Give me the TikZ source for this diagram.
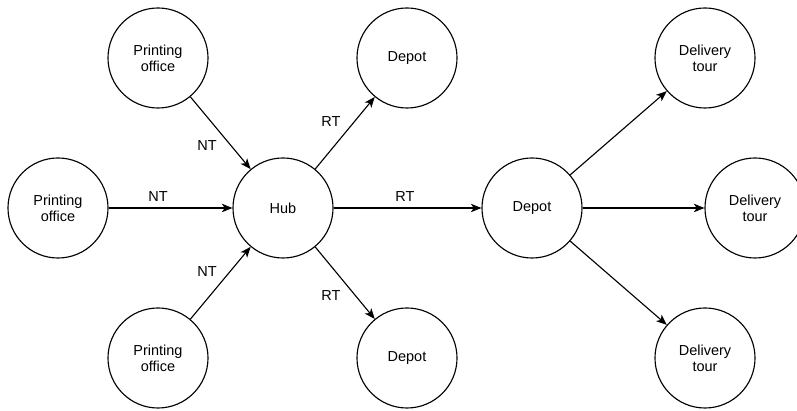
\documentclass[tikz,border=0pt]{standalone}
\usepackage{fontspec}
\setmainfont{Liberation Sans}
\usetikzlibrary{arrows.meta}
\newcommand{\twolines}[2]{#1\\#2}

\begin{document}
\begin{tikzpicture}[x=0.025cm,y=-0.025cm,
		place/.style={draw,circle,minimum size=2.5cm,inner sep=0pt,align=center,line width=0.8pt,
			font=\fontsize{10.3pt}{11.3pt}\selectfont},
		flow/.style={-{Stealth[length=7.5pt,width=6pt,inset=2pt]},line width=0.8pt},
		tag/.style={inner sep=1pt,font=\fontsize{10.3pt}{11.3pt}\selectfont}]
		\useasboundingbox (0,0) rectangle (797,411);

		\node[place] (po1) at (158,58) {\twolines{Printing}{office}};
		\node[place] (po2) at (58,208) {\twolines{Printing}{office}};
		\node[place] (po3) at (158,358) {\twolines{Printing}{office}};
		\node[place] (hub) at (283,208) {Hub};
		\node[place] (dep1) at (407,58) {Depot};
		\node[place] (dep2) at (532,208) {Depot};
		\node[place] (dep3) at (407,358) {Depot};
		\node[place] (tour1) at (705,58) {\twolines{Delivery}{tour}};
		\node[place] (tour2) at (755,208) {\twolines{Delivery}{tour}};
		\node[place] (tour3) at (705,358) {\twolines{Delivery}{tour}};

		\draw[flow] (po1) -- (hub);
		\draw[flow] (po2) -- (hub);
		\draw[flow] (po3) -- (hub);
		\node[tag] (nt1) at (207,146) {NT};
		\node[tag] (nt2) at (158,197) {NT};
		\node[tag] (nt3) at (207,272) {NT};

		\draw[flow] (hub) -- (dep1);
		\draw[flow] (hub) -- (dep2);
		\draw[flow] (hub) -- (dep3);
		\node[tag] (rt1) at (331,122) {RT};
		\node[tag] (rt2) at (405,197) {RT};
		\node[tag] (rt3) at (331,296) {RT};

		\draw[flow] (dep2) -- (tour1);
		\draw[flow] (dep2) -- (tour2);
		\draw[flow] (dep2) -- (tour3);
	\end{tikzpicture}
\end{document}
